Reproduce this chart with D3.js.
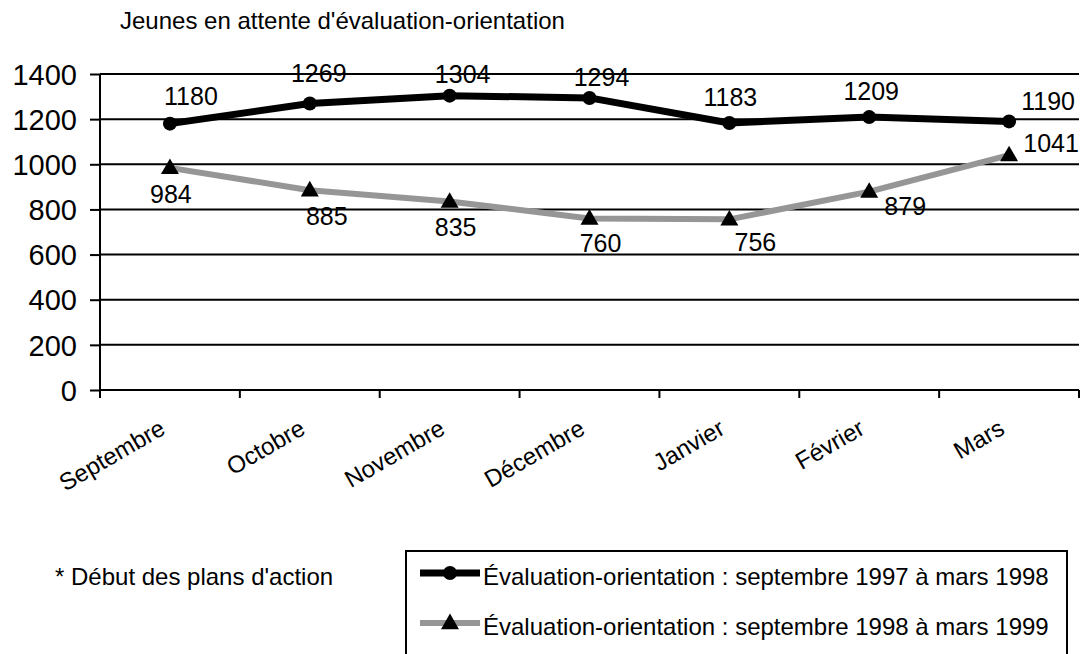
<!DOCTYPE html>
<html>
<head>
<meta charset="utf-8">
<script src="https://cdn.jsdelivr.net/npm/d3@7"></script>
<style>
  html, body { margin: 0; padding: 0; background: #fff; }
  svg { display: block; font-family: "Liberation Sans", Arial, sans-serif; }
</style>
</head>
<body>
<svg id="chart" width="1081" height="654"></svg>
<script>
// Months on the category axis
const months = ["Septembre", "Octobre", "Novembre", "Décembre", "Janvier", "Février", "Mars"];
// Youth waiting for assessment, Sept 1997 – March 1998
const wait9798 = [1180, 1269, 1304, 1294, 1183, 1209, 1190];
// Youth waiting for assessment, Sept 1998 – March 1999
const wait9899 = [984, 885, 835, 760, 756, 879, 1041];
// Value axis ticks
const yTicks = [0, 200, 400, 600, 800, 1000, 1200, 1400];
const seriesNames = [
  "Évaluation-orientation : septembre 1997 à mars 1998",
  "Évaluation-orientation : septembre 1998 à mars 1999"
];
const titleText = "Jeunes en attente d'évaluation-orientation";
const noteText = "* Début des plans d'action";

// Per-point label nudges (px, relative to the marker)
const nudge9798 = [[21, -19], [9, -22], [13, -13], [12, -12], [1, -17], [2, -17], [39, -11]];
const nudge9899 = [[1, 35], [17, 35], [6, 34], [11, 34], [26, 32], [36, 23], [42, -3]];

const svg = d3.select("#chart");
const plot = { left: 100, right: 1079, top: 74, bottom: 390 };

const x = d3.scaleBand().domain(months).range([plot.left, plot.right]).padding(0);
const y = d3.scaleLinear().domain([0, 1400]).range([plot.bottom, plot.top]);
const cx = m => x(m) + x.bandwidth() / 2;

// Title
svg.append("text")
  .attr("x", 120).attr("y", 29)
  .attr("font-size", 24).attr("fill", "#000")
  .text(titleText);

// Horizontal gridlines
svg.append("g")
  .selectAll("line")
  .data(yTicks.filter(t => t > 0))
  .join("line")
  .attr("x1", plot.left).attr("x2", plot.right)
  .attr("y1", d => y(d)).attr("y2", d => y(d))
  .attr("stroke", "#000").attr("stroke-width", 2);

// Value axis
const yAxis = d3.axisLeft(y).tickValues(yTicks).tickFormat(d3.format("d")).tickSize(10).tickPadding(13);
const gy = svg.append("g").attr("transform", `translate(${plot.left},0)`).call(yAxis);
gy.attr("font-family", null).attr("font-size", null);
gy.select(".domain").attr("stroke", "#000").attr("stroke-width", 2).attr("d", `M0,${plot.top}V${plot.bottom}`);
gy.selectAll(".tick line").attr("stroke", "#000").attr("stroke-width", 2);
gy.selectAll(".tick text")
  .attr("font-size", 29)
  .attr("fill", "#000").attr("dy", "0.35em");

// Category axis with ticks between months
const boundaries = months.map(m => x(m)).concat([plot.right]);
const gx = svg.append("g");
gx.append("line")
  .attr("x1", plot.left).attr("x2", plot.right)
  .attr("y1", plot.bottom).attr("y2", plot.bottom)
  .attr("stroke", "#000").attr("stroke-width", 2);
gx.selectAll("line.tk")
  .data(boundaries)
  .join("line").attr("class", "tk")
  .attr("x1", d => d).attr("x2", d => d)
  .attr("y1", plot.bottom).attr("y2", plot.bottom + 8)
  .attr("stroke", "#000").attr("stroke-width", 2);
gx.selectAll("text")
  .data(months)
  .join("text")
  .attr("transform", d => `translate(${cx(d) - 3},${plot.bottom + 43}) rotate(-30)`)
  .attr("text-anchor", "end")
  .attr("font-size", 24).attr("fill", "#000")
  .text(d => d);

const line = d3.line().x((d, i) => cx(months[i])).y(d => y(d));

// Series 1998–1999 (grey, triangles)
svg.append("path")
  .datum(wait9899)
  .attr("d", line)
  .attr("fill", "none").attr("stroke", "#969696").attr("stroke-width", 6)
  .attr("stroke-linejoin", "round");

// Series 1997–1998 (black, circles)
svg.append("path")
  .datum(wait9798)
  .attr("d", line)
  .attr("fill", "none").attr("stroke", "#000").attr("stroke-width", 7)
  .attr("stroke-linejoin", "round");

const tri = d3.symbol().type(d3.symbolTriangle).size(140);

svg.append("g").selectAll("path")
  .data(wait9899)
  .join("path")
  .attr("d", tri)
  .attr("transform", (d, i) => `translate(${cx(months[i])},${y(d) + 1})`)
  .attr("fill", "#000");

svg.append("g").selectAll("circle")
  .data(wait9798)
  .join("circle")
  .attr("cx", (d, i) => cx(months[i]))
  .attr("cy", d => y(d))
  .attr("r", 7)
  .attr("fill", "#000");

// Value labels
function valueLabels(values, nudges) {
  svg.append("g").selectAll("text")
    .data(values)
    .join("text")
    .attr("x", (d, i) => cx(months[i]) + nudges[i][0])
    .attr("y", (d, i) => y(d) + nudges[i][1])
    .attr("text-anchor", "middle")
    .attr("font-size", 25).attr("fill", "#000")
    .text(d => d);
}
valueLabels(wait9798, nudge9798);
valueLabels(wait9899, nudge9899);

// Footnote
svg.append("text")
  .attr("x", 55).attr("y", 585)
  .attr("font-size", 24).attr("fill", "#000")
  .text(noteText);

// Legend
const legend = svg.append("g");
legend.append("rect")
  .attr("x", 406).attr("y", 551).attr("width", 661).attr("height", 120)
  .attr("fill", "#fff").attr("stroke", "#000").attr("stroke-width", 2);

const legendRows = [
  { name: seriesNames[0], color: "#000", width: 7, marker: "circle", y: 573 },
  { name: seriesNames[1], color: "#969696", width: 6, marker: "triangle", y: 623 }
];
legendRows.forEach(r => {
  legend.append("line")
    .attr("x1", 420).attr("x2", 480).attr("y1", r.y).attr("y2", r.y)
    .attr("stroke", r.color).attr("stroke-width", r.width);
  if (r.marker === "circle") {
    legend.append("circle").attr("cx", 450).attr("cy", r.y).attr("r", 7).attr("fill", "#000");
  } else {
    legend.append("path").attr("d", tri).attr("transform", `translate(450,${r.y + 1})`).attr("fill", "#000");
  }
  legend.append("text")
    .attr("x", 483).attr("y", r.y + 12)
    .attr("font-size", 24).attr("fill", "#000")
    .text(r.name);
});
</script>
</body>
</html>
